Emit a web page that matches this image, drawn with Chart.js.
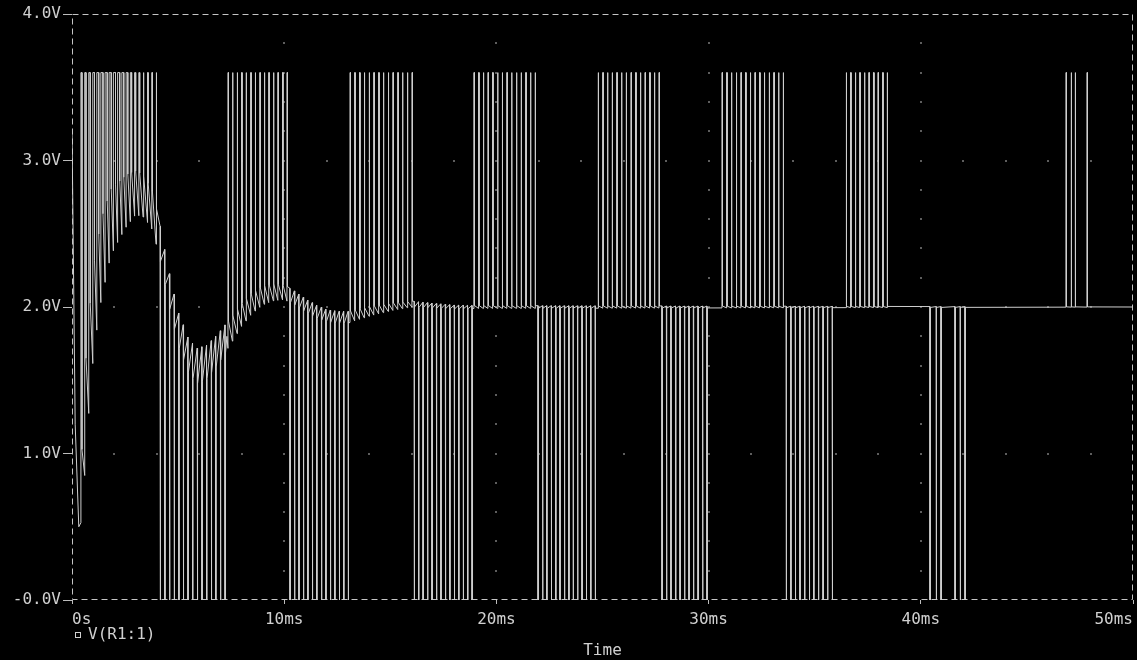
<!DOCTYPE html>
<html>
<head>
<meta charset="utf-8">
<script src="https://cdn.jsdelivr.net/npm/chart.js@4.4.1/dist/chart.umd.min.js"></script>
<style>
  html, body { margin: 0; padding: 0; background: #000; }
  canvas { display: block; }
</style>
</head>
<body>
<canvas id="scope" width="1137" height="660"></canvas>
<script>
// axis labels
const xTickLabels = ['0s', '10ms', '20ms', '30ms', '40ms', '50ms'];
const yTickLabels = ['-0.0V', '1.0V', '2.0V', '3.0V', '4.0V'];
const seriesName = 'V(R1:1)';

// filtered (average) level of the node (ms, V)
const baseTimes = [0, 0.15, 0.32, 0.5, 0.7, 1.0, 1.3, 1.8, 2.5, 3.0, 3.4, 3.8, 4.2, 4.6, 5.0, 5.5, 5.9, 6.3, 6.8, 7.3, 8.0, 8.5, 9.0, 9.5, 10.0, 10.5, 11.0, 11.5, 12.0, 12.5, 13.0, 14.0, 15.0, 16.0, 17.0, 18.0, 20.0, 50.0];
const baseVolts = [3.2, 1.2, 0.5, 1.0, 1.5, 2.0, 2.3, 2.58, 2.72, 2.78, 2.75, 2.65, 2.4, 2.1, 1.85, 1.66, 1.6, 1.62, 1.7, 1.8, 1.95, 2.03, 2.08, 2.1, 2.1, 2.06, 2.01, 1.97, 1.94, 1.93, 1.93, 1.97, 2.0, 2.02, 2.01, 2.0, 2.0, 2.0];

// sawtooth ripple half-amplitude around that level (ms, V)
const rippleTimes = [0, 0.3, 0.6, 1.0, 2.0, 3.0, 4.0, 6.0, 8.0, 10.0, 13.0, 16.0, 19.0, 50.0];
const rippleVolts = [0, 0.15, 0.4, 0.35, 0.22, 0.15, 0.12, 0.12, 0.08, 0.05, 0.04, 0.02, 0.01, 0];

const highLevel = 3.6;
const lowLevel = 0;
const pulseWidth = 0.025;

// pulse start times (ms), bursts up to 3.6V
const upBurst1 = [0.42, 0.60, 0.79, 0.98, 1.17, 1.36, 1.56, 1.75, 1.95, 2.15, 2.35, 2.55, 2.75, 2.95, 3.15, 3.35, 3.56, 3.76, 3.96];
const upBurst1Widths = [0.05, 0.06, 0.07, 0.08, 0.09, 0.1, 0.1, 0.1, 0.1, 0.1, 0.09, 0.08, 0.06, 0.05, 0.04, 0.04, 0.03, 0.03, 0.03];
const upBurst2 = [7.35, 7.56, 7.78, 7.99, 8.20, 8.42, 8.63, 8.85, 9.06, 9.27, 9.49, 9.70, 9.92, 10.13];
const upBurst3 = [13.10, 13.32, 13.55, 13.77, 14.00, 14.22, 14.45, 14.67, 14.90, 15.12, 15.35, 15.57, 15.80, 16.02];
const upBurst4 = [18.94, 19.16, 19.38, 19.60, 19.82, 20.05, 20.27, 20.49, 20.71, 20.94, 21.16, 21.38, 21.60, 21.82];
const upBurst5 = [24.79, 25.01, 25.23, 25.45, 25.67, 25.89, 26.11, 26.34, 26.56, 26.78, 27.00, 27.22, 27.44, 27.66];
const upBurst6 = [30.63, 30.85, 31.07, 31.30, 31.52, 31.74, 31.96, 32.18, 32.40, 32.62, 32.85, 33.07, 33.29, 33.51];
const upBurst7 = [36.48, 36.69, 36.91, 37.12, 37.34, 37.55, 37.77, 37.98, 38.20, 38.41];
const upBurst8 = [46.84, 47.08, 47.27, 47.83];

// pulse start times (ms), bursts down to 0V
const downBurst1 = [4.15, 4.37, 4.59, 4.81, 5.03, 5.24, 5.46, 5.68, 5.90, 6.12, 6.34, 6.56, 6.77, 6.99, 7.21];
const downBurst2 = [10.27, 10.48, 10.69, 10.90, 11.11, 11.32, 11.53, 11.75, 11.96, 12.17, 12.38, 12.59, 12.80, 13.01];
const downBurst3 = [16.12, 16.33, 16.54, 16.75, 16.96, 17.17, 17.38, 17.59, 17.80, 18.01, 18.22, 18.43, 18.64, 18.85];
const downBurst4 = [21.96, 22.17, 22.37, 22.58, 22.79, 22.99, 23.20, 23.41, 23.61, 23.82, 24.03, 24.23, 24.44, 24.65];
const downBurst5 = [27.80, 28.01, 28.22, 28.44, 28.65, 28.86, 29.07, 29.28, 29.50, 29.71, 29.92];
const downBurst6 = [33.65, 33.87, 34.08, 34.30, 34.52, 34.74, 34.95, 35.17, 35.39, 35.60, 35.82];
const downBurst7 = [40.43, 40.72, 40.95, 41.61, 41.85, 42.08];

const upBursts = [upBurst1, upBurst2, upBurst3, upBurst4, upBurst5, upBurst6, upBurst7, upBurst8];
const downBursts = [downBurst1, downBurst2, downBurst3, downBurst4, downBurst5, downBurst6, downBurst7];

function lookup(ts, vs, t) {
    if (t <= ts[0]) return vs[0];
    for (let i = 1; i < ts.length; i++) {
        if (t <= ts[i]) {
            const f = (t - ts[i - 1]) / (ts[i] - ts[i - 1]);
            return vs[i - 1] + f * (vs[i] - vs[i - 1]);
        }
    }
    return vs[vs.length - 1];
}

// build the trace: level between bursts, pulses inside them
const spans = [];
const points = [];

function addBurst(times, widths, level, sign) {
    const last = times.length - 1;
    spans.push([times[0] - 0.02, times[last] + (widths ? widths[last] : pulseWidth) + 0.02]);
    times.forEach((t, i) => {
        const w = widths ? widths[i] : pulseWidth;
        const b = lookup(baseTimes, baseVolts, t);
        const r = lookup(rippleTimes, rippleVolts, t);
        points.push({ x: t, y: b - sign * r });
        points.push({ x: t, y: level });
        points.push({ x: t + w, y: level });
        points.push({ x: t + w, y: b + sign * r });
    });
}

upBursts.forEach((b, i) => addBurst(b, i === 0 ? upBurst1Widths : null, highLevel, 1));
downBursts.forEach(b => addBurst(b, null, lowLevel, -1));

baseTimes.forEach((t, i) => {
    const inside = spans.some(s => t >= s[0] && t <= s[1]);
    if (!inside) points.push({ x: t, y: baseVolts[i] });
});
points.sort((a, b) => a.x - b.x);

const textColor = '#d0d0d0';
const monoFont = { family: '"DejaVu Sans Mono", "Liberation Mono", monospace', size: 16 };

// dashed frame, dotted grid and the legend entry
const scopeDecor = {
    id: 'scopeDecor',
    beforeDatasetsDraw(chart) {
        const { ctx, chartArea: a, scales: { x, y } } = chart;
        ctx.save();
        ctx.fillStyle = '#5e5e5e';
        for (let v = 1; v <= 3; v++) {
            for (let t = 2; t < 50; t += 2) {
                ctx.fillRect(Math.round(x.getPixelForValue(t)) - 1, Math.round(y.getPixelForValue(v)) - 1, 2, 2);
            }
        }
        for (let t = 10; t < 50; t += 10) {
            for (let k = 1; k < 20; k++) {
                ctx.fillRect(Math.round(x.getPixelForValue(t)) - 1, Math.round(y.getPixelForValue(k * 0.2)) - 1, 2, 2);
            }
        }
        ctx.strokeStyle = '#c4c4c4';
        ctx.lineWidth = 1;
        ctx.setLineDash([6, 4]);
        ctx.beginPath();
        ctx.moveTo(a.left + 0.5, a.top + 0.5);
        ctx.lineTo(a.right - 0.5, a.top + 0.5);
        ctx.lineTo(a.right - 0.5, a.bottom - 0.5);
        ctx.lineTo(a.left + 0.5, a.bottom - 0.5);
        ctx.closePath();
        ctx.stroke();
        ctx.restore();
    },
    afterDraw(chart) {
        const { ctx, chartArea: a } = chart;
        ctx.save();
        ctx.strokeStyle = textColor;
        ctx.lineWidth = 1;
        ctx.strokeRect(a.left + 3.5, 632.5, 5, 5);
        ctx.fillStyle = textColor;
        ctx.font = monoFont.size + 'px ' + monoFont.family;
        ctx.textBaseline = 'middle';
        ctx.textAlign = 'left';
        ctx.fillText(seriesName, a.left + 16, 635);
        ctx.restore();
    }
};

const ctx = document.getElementById('scope').getContext('2d');

const scopeChart = new Chart(ctx, {
    type: 'line',
    data: {
        datasets: [{
            label: seriesName,
            data: points,
            borderColor: '#cfcfcf',
            borderWidth: 1,
            pointRadius: 0,
            tension: 0,
            fill: false
        }]
    },
    options: {
        responsive: false,
        animation: false,
        layout: { padding: { top: 14, right: 0, left: 0, bottom: 0 } },
        plugins: {
            legend: { display: false },
            tooltip: { enabled: false }
        },
        scales: {
            x: {
                type: 'linear',
                min: 0,
                max: 50,
                afterBuildTicks(scale) {
                    scale.ticks = xTickLabels.map((l, i) => ({ value: i * 10 }));
                },
                ticks: {
                    color: textColor,
                    font: monoFont,
                    padding: 6,
                    align: 'inner',
                    maxRotation: 0,
                    autoSkip: false,
                    callback: (v, i) => xTickLabels[i]
                },
                grid: { drawOnChartArea: false, tickLength: 4, tickColor: '#bdbdbd' },
                border: { display: false },
                title: {
                    display: true,
                    text: 'Time',
                    color: textColor,
                    font: monoFont,
                    padding: { top: 0, bottom: 0 }
                },
                afterFit(scale) {
                    scale.height = 60;
                    scale.paddingRight = 4;
                }
            },
            y: {
                min: 0,
                max: 4,
                afterBuildTicks(scale) {
                    scale.ticks = yTickLabels.map((l, i) => ({ value: i }));
                },
                ticks: {
                    color: textColor,
                    font: monoFont,
                    padding: 2,
                    callback: (v, i) => yTickLabels[i]
                },
                grid: { drawOnChartArea: false, tickLength: 9, tickColor: '#bdbdbd' },
                border: { display: false },
                afterFit(scale) { scale.width = 72; }
            }
        }
    },
    plugins: [scopeDecor]
});
</script>
</body>
</html>
